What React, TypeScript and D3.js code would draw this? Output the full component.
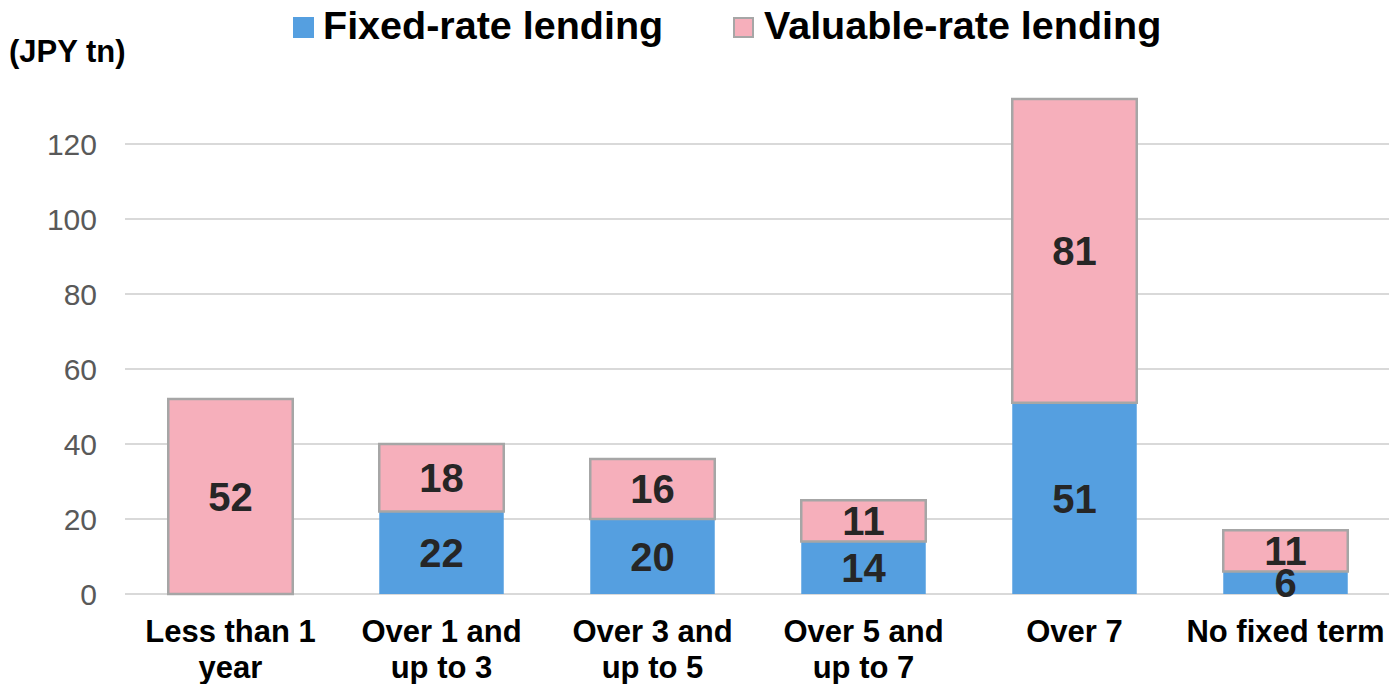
import React from "react";
import * as d3 from "d3";

const categories: string[][] = [
  ["Less than 1", "year"],
  ["Over 1 and", "up to 3"],
  ["Over 3 and", "up to 5"],
  ["Over 5 and", "up to 7"],
  ["Over 7"],
  ["No fixed term"],
];
const fixedRate: number[] = [0, 22, 20, 14, 51, 6];
const variableRate: number[] = [52, 18, 16, 11, 81, 11];
const yTicks: number[] = [0, 20, 40, 60, 80, 100, 120];
const seriesNames: string[] = ["Fixed-rate lending", "Valuable-rate lending"];
const unitLabel = "(JPY tn)";

const W = 1389;
const H = 684;
const BLUE = "#559FE0";
const PINK = "#F6AFBB";
const BORDER = "#A6A6A6";
const FONT = "'Liberation Sans', Arial, sans-serif";

export default function App() {
  const x = d3
    .scaleBand<number>()
    .domain(categories.map((_, i) => i))
    .range([125, 1391])
    .paddingInner(0.41)
    .paddingOuter(0.205);
  const y = d3.scaleLinear().domain([0, 120]).range([594, 144]);

  const stacked = categories.map((_, i) => ({
    i,
    f0: 0,
    f1: fixedRate[i],
    v0: fixedRate[i],
    v1: fixedRate[i] + variableRate[i],
  }));

  return (
    <svg
      width={W}
      height={H}
      style={{ position: "fixed", left: 0, top: 0, background: "#fff" }}
      fontFamily={FONT}
    >
      {yTicks.map((t) => (
        <line
          key={"g" + t}
          x1={125}
          x2={W}
          y1={y(t)}
          y2={y(t)}
          stroke="#D9D9D9"
          strokeWidth={2}
        />
      ))}
      {yTicks.map((t) => (
        <text
          key={"t" + t}
          x={97}
          y={y(t)}
          dy="0.36em"
          textAnchor="end"
          fontSize={30}
          fill="#595959"
        >
          {t}
        </text>
      ))}
      {stacked.map((d) => {
        const bx = x(d.i)!;
        const bw = x.bandwidth();
        return (
          <g key={"b" + d.i}>
            {d.f1 > d.f0 && (
              <rect
                x={bx}
                y={y(d.f1)}
                width={bw}
                height={y(d.f0) - y(d.f1)}
                fill={BLUE}
              />
            )}
            <rect
              x={bx}
              y={y(d.v1)}
              width={bw}
              height={y(d.v0) - y(d.v1)}
              fill={PINK}
              stroke={BORDER}
              strokeWidth={2.5}
            />
          </g>
        );
      })}
      {stacked.map((d) => {
        const cx = x(d.i)! + x.bandwidth() / 2;
        return (
          <g key={"l" + d.i} fontSize={40} fontWeight="bold" fill="#262626" textAnchor="middle">
            {fixedRate[d.i] > 0 && (
              <text x={cx} y={y((d.f0 + d.f1) / 2)} dy="0.36em">
                {fixedRate[d.i]}
              </text>
            )}
            <text x={cx} y={y((d.v0 + d.v1) / 2)} dy="0.36em">
              {variableRate[d.i]}
            </text>
          </g>
        );
      })}
      {categories.map((lines, i) => (
        <text
          key={"c" + i}
          x={x(i)! + x.bandwidth() / 2}
          y={642}
          textAnchor="middle"
          fontSize={31}
          fontWeight="bold"
          fill="#000"
        >
          {lines.map((ln, k) => (
            <tspan key={k} x={x(i)! + x.bandwidth() / 2} dy={k === 0 ? 0 : 36}>
              {ln}
            </tspan>
          ))}
        </text>
      ))}
      <text x={9} y={62} fontSize={31} fontWeight="bold" fill="#000">
        {unitLabel}
      </text>
      <rect x={293} y={17} width={21} height={21} fill={BLUE} />
      <text x={323} y={39} fontSize={39.5} fontWeight="bold" fill="#000">
        {seriesNames[0]}
      </text>
      <rect x={734} y={18} width={19} height={19} fill={PINK} stroke={BORDER} strokeWidth={2} />
      <text x={764} y={39} fontSize={39.5} fontWeight="bold" fill="#000">
        {seriesNames[1]}
      </text>
    </svg>
  );
}
